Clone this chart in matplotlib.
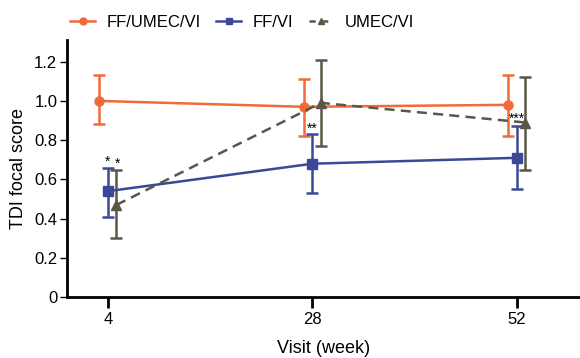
import numpy as np
import matplotlib.pyplot as plt
from matplotlib.lines import Line2D

plt.rcParams['font.family'] = ['Liberation Sans', 'DejaVu Sans']

weeks = [4, 28, 52]
tick_labels = ["4", "28", "52"]

triple = [1.00, 0.97, 0.98]
triple_lo = [0.88, 0.82, 0.82]
triple_hi = [1.13, 1.11, 1.13]

ffvi = [0.54, 0.68, 0.71]
ffvi_lo = [0.41, 0.53, 0.55]
ffvi_hi = [0.66, 0.83, 0.87]

umec = [0.47, 0.99, 0.89]
umec_lo = [0.30, 0.77, 0.65]
umec_hi = [0.65, 1.21, 1.12]

stars = ["*", "*", "**", "***"]
star_x = [4, 5.1, 28, 52]
star_y = [0.69, 0.68, 0.86, 0.91]

c_triple = "#F26A3A"
c_ffvi = "#3B4899"
c_umec = "#5A5747"

fig = plt.figure(figsize=(5.8, 3.58), dpi=100)
ax = fig.add_axes([0.1155, 0.170, 0.8845, 0.718])

x = np.array(weeks, dtype=float)
off = 1.0
eb = dict(lw=1.8, ms=6.5, capsize=4, capthick=1.8, elinewidth=1.8)

ax.errorbar(x - off, triple, yerr=[np.array(triple) - triple_lo, np.array(triple_hi) - triple],
            color=c_triple, marker="o", ls="-", **eb)
ax.errorbar(x, ffvi, yerr=[np.array(ffvi) - ffvi_lo, np.array(ffvi_hi) - ffvi],
            color=c_ffvi, marker="s", ls="-", **eb)
ax.errorbar(x + off, umec, yerr=[np.array(umec) - umec_lo, np.array(umec_hi) - umec],
            color=c_umec, marker="^", ls=(0, (4, 2.5)), **eb)

for s, sx, sy in zip(stars, star_x, star_y):
    ax.text(sx, sy, s, ha="center", va="center", fontsize=10)

ax.set_xlim(-0.8, 59.4)
ax.set_ylim(0, 1.31)
ax.set_xticks(weeks)
ax.set_xticklabels(tick_labels)
ax.set_yticks([0, 0.2, 0.4, 0.6, 0.8, 1.0, 1.2])
ax.set_yticklabels(["0", "0.2", "0.4", "0.6", "0.8", "1.0", "1.2"])
ax.spines["top"].set_visible(False)
ax.spines["right"].set_visible(False)
ax.spines["left"].set_linewidth(2)
ax.spines["bottom"].set_linewidth(2)
ax.tick_params(axis="x", width=2, length=8, labelsize=12, pad=3)
ax.tick_params(axis="y", width=1, length=5, labelsize=12, pad=2)
ax.set_xlabel("Visit (week)", fontsize=13, labelpad=9)
ax.set_ylabel("TDI focal score", fontsize=13, labelpad=5)

handles = [
    Line2D([], [], color=c_triple, marker="o", ls="-", lw=1.8, ms=5),
    Line2D([], [], color=c_ffvi, marker="s", ls="-", lw=1.8, ms=5),
    Line2D([], [], color=c_umec, marker="^", ls=(0, (2.5, 2.5)), lw=1.8, ms=5),
]
labels = ["FF/UMEC/VI", "FF/VI", "UMEC/VI"]
fig.legend(handles, labels, loc="upper center", bbox_to_anchor=(0.418, 1.0), ncol=3,
           frameon=False, fontsize=12, handlelength=1.5, handletextpad=0.7,
           columnspacing=0.9)

plt.savefig("out.png", dpi=100)
